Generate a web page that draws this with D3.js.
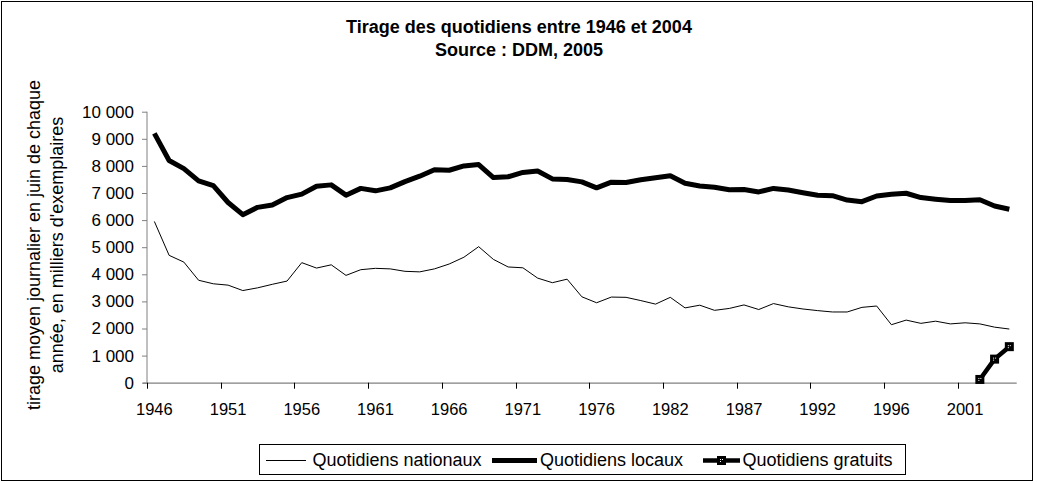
<!DOCTYPE html>
<html><head><meta charset="utf-8">
<script src="https://cdn.jsdelivr.net/npm/d3@7"></script>
<style>
html,body{margin:0;padding:0;background:#fff;}
svg text{font-family:"Liberation Sans",Arial,sans-serif;fill:#000;}
</style></head>
<body><svg id="c" width="1037" height="483"></svg>
<script>
const years = ["1946","1947","1948","1949","1950","1951","1952","1953","1954","1955","1956","1957","1958","1959","1960","1961","1962","1963","1964","1965","1966","1967","1968","1969","1970","1971","1972","1973","1974","1975","1976","1977","1978","1979","1980","1982","1983","1984","1985","1986","1987","1988","1989","1990","1991","1992","1993","1994","1995","1995","1996","1997","1998","1999","2000","2001","2002","2003","2004"];
const nationaux = [5950,4700,4450,3780,3650,3600,3400,3500,3630,3750,4430,4230,4350,3960,4170,4220,4200,4110,4090,4200,4380,4630,5020,4550,4270,4240,3860,3690,3820,3170,2950,3160,3150,3030,2900,3150,2760,2860,2670,2740,2870,2700,2920,2800,2720,2660,2610,2610,2780,2830,2140,2310,2190,2270,2170,2210,2170,2050,1980];
const locaux = [9200,8200,7900,7450,7270,6650,6200,6470,6560,6830,6960,7250,7300,6920,7170,7080,7190,7420,7620,7860,7840,8000,8050,7570,7600,7760,7810,7520,7500,7410,7190,7400,7390,7490,7560,7640,7360,7260,7210,7120,7130,7040,7170,7110,7010,6920,6900,6740,6680,6890,6950,6990,6830,6770,6720,6720,6750,6520,6400];
const gratuits = [null,null,null,null,null,null,null,null,null,null,null,null,null,null,null,null,null,null,null,null,null,null,null,null,null,null,null,null,null,null,null,null,null,null,null,null,null,null,null,null,null,null,null,null,null,null,null,null,null,null,null,null,null,null,null,null,120,870,1330];
const yTicks = [0,1000,2000,3000,4000,5000,6000,7000,8000,9000,10000];
const seriesNames = ["Quotidiens nationaux","Quotidiens locaux","Quotidiens gratuits"];
const titleLines = ["Tirage des quotidiens entre 1946 et 2004","Source : DDM, 2005"];
const yLabelLines = ["tirage moyen journalier en juin de chaque","année, en milliers d'exemplaires"];

const svg = d3.select("#c");
// frame
svg.append("rect").attr("x",1.5).attr("y",1.5).attr("width",1031).attr("height",479)
  .attr("fill","#fff").attr("stroke","#000").attr("stroke-width",1);

const x0 = 147, x1 = 1016.7, yTop = 111.7, yBot = 382.7;
const idx = d3.range(years.length);
const x = d3.scaleBand().domain(idx).range([x0, x1]).padding(0);
const y = d3.scaleLinear().domain([0,10000]).range([yBot, yTop]);
const cx = i => x(i) + x.bandwidth()/2;

// title
svg.append("g").selectAll("text").data(titleLines).join("text")
  .attr("x", 519).attr("y",(d,i)=>33+i*23).attr("text-anchor","middle")
  .attr("font-size","18px").attr("font-weight","bold").text(d=>d);

// y label
svg.append("g").selectAll("text").data(yLabelLines).join("text")
  .attr("transform",(d,i)=>`translate(${40+i*22.5},245) rotate(-90)`)
  .attr("text-anchor","middle").attr("font-size","18px").text(d=>d);

// y axis
const yAxis = d3.axisLeft(y).tickValues(yTicks).tickSize(5).tickPadding(8)
  .tickFormat(d => d3.format(",")(d).replace(/,/g," "));
const gy = svg.append("g").attr("transform",`translate(${x0},0)`).call(yAxis);
gy.select(".domain").attr("stroke","#808080").attr("d",`M-0.5,${yTop}V${yBot}`).attr("transform","translate(0.5,0)");
gy.selectAll(".tick line").attr("stroke","#808080");
gy.selectAll(".tick text").attr("font-size","17px").attr("font-family","Liberation Sans, Arial, sans-serif").attr("fill","#000");

// x axis: labels at centers every 5 categories, ticks at boundaries
const labelIdx = idx.filter(i => i % 5 === 0);
const gx = svg.append("g");
gx.append("line").attr("x1",x0-4).attr("x2",x1).attr("y1",yBot+0.5).attr("y2",yBot+0.5)
  .attr("stroke","#808080").attr("stroke-width",1.2);
gx.selectAll("line.tk").data(labelIdx).join("line").attr("class","tk")
  .attr("x1",i=>Math.round(x(i))+0.5).attr("x2",i=>Math.round(x(i))+0.5)
  .attr("y1",yBot).attr("y2",yBot+6).attr("stroke","#000");
gx.selectAll("text").data(labelIdx).join("text")
  .attr("x",i=>cx(i)).attr("y",415).attr("text-anchor","middle")
  .attr("font-size","16.5px").text(i=>years[i]);

// lines
const mk = arr => d3.line().defined(i => arr[i] != null).x(i => cx(i)).y(i => y(arr[i]));
svg.append("path").datum(idx).attr("d", mk(nationaux)).attr("fill","none")
  .attr("stroke","#000").attr("stroke-width",1).attr("stroke-linejoin","round");
svg.append("path").datum(idx).attr("d", mk(locaux)).attr("fill","none")
  .attr("stroke","#000").attr("stroke-width",5).attr("stroke-linejoin","round");
svg.append("path").datum(idx).attr("d", mk(gratuits)).attr("fill","none")
  .attr("stroke","#000").attr("stroke-width",4.5).attr("stroke-linejoin","round");

function marker(g, px, py){
  g.append("rect").attr("x",px-4.5).attr("y",py-4.5).attr("width",9).attr("height",9).attr("fill","#000");
  g.append("rect").attr("x",px-1.5).attr("y",py-1.5).attr("width",1).attr("height",1).attr("fill","#fff");
  g.append("rect").attr("x",px+0.5).attr("y",py-1.5).attr("width",1).attr("height",1).attr("fill","#fff");
  g.append("rect").attr("x",px-1.5).attr("y",py+0.5).attr("width",1).attr("height",1).attr("fill","#fff");
}
const mg = svg.append("g");
idx.filter(i => gratuits[i] != null).forEach(i => marker(mg, cx(i), y(gratuits[i])));

// legend
const lg = svg.append("g");
lg.append("rect").attr("x",259.5).attr("y",444.5).attr("width",646).attr("height",30)
  .attr("fill","#fff").attr("stroke","#000");
const legItems = [
  {x1:266,x2:306,tx:312.5,w:1,m:false},
  {x1:492,x2:537,tx:540,w:5,m:false},
  {x1:703,x2:740,tx:742.5,w:4.5,m:true}
];
legItems.forEach((it,k)=>{
  lg.append("line").attr("x1",it.x1).attr("x2",it.x2).attr("y1",460.5).attr("y2",460.5)
    .attr("stroke","#000").attr("stroke-width",it.w);
  if(it.m) marker(lg,(it.x1+it.x2)/2,460.5);
  lg.append("text").attr("x",it.tx).attr("y",466).attr("font-size","18px").text(seriesNames[k]);
});
</script></body></html>
